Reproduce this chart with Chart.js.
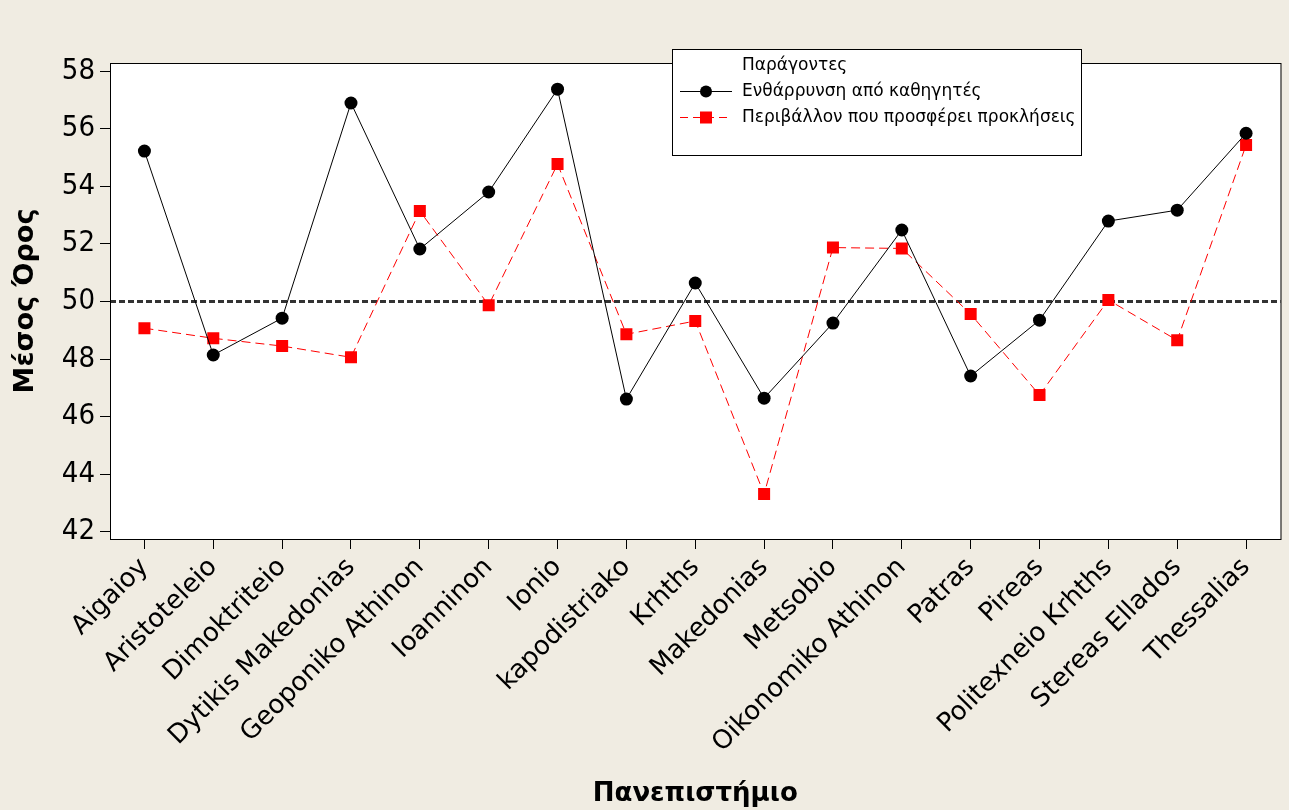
<!DOCTYPE html>
<html>
<head>
<meta charset="utf-8">
<script src="https://cdn.jsdelivr.net/npm/chart.js@4"></script>
<style>
  html, body { margin: 0; padding: 0; background: #F0ECE2; }
  #wrap { width: 1289px; height: 810px; }
</style>
</head>
<body>
<div id="wrap"><canvas id="c" width="1289" height="810"></canvas></div>
<script>
const categories = ["Aigaioy","Aristoteleio","Dimoktriteio","Dytikis Makedonias","Geoponiko Athinon","Ioanninon","Ionio","kapodistriako","Krhths","Makedonias","Metsobio","Oikonomiko Athinon","Patras","Pireas","Politexneio Krhths","Stereas Ellados","Thessalias"];
const encouragement = [55.22,48.14,49.42,56.89,51.82,53.80,57.37,46.61,50.64,46.64,49.25,52.48,47.41,49.35,52.79,53.17,55.84];
const challenge = [49.07,48.72,48.45,48.06,53.14,49.87,54.77,48.86,49.32,43.31,51.87,51.84,49.56,46.75,50.05,48.65,55.43];
const seriesNames = ["Ενθάρρυνση από καθηγητές","Περιβάλλον που προσφέρει προκλήσεις"];
const legendTitle = "Παράγοντες";
const yTicks = [42,44,46,48,50,52,54,56,58];
const referenceValue = 50;
const xTitle = "Πανεπιστήμιο";
const yTitle = "Μέσος Όρος";

const FONT = "'DejaVu Sans', sans-serif";

const framePlugin = {
  id: 'frame',
  beforeDraw(chart) {
    const {ctx, chartArea: a} = chart;
    ctx.save();
    ctx.fillStyle = '#FFFFFF';
    ctx.fillRect(a.left, a.top, a.right - a.left, a.bottom - a.top);
    ctx.restore();
  },
  beforeDatasetsDraw(chart) {
    const {ctx, chartArea: a, scales} = chart;
    const y = Math.round(scales.y.getPixelForValue(referenceValue)) + 0.5;
    ctx.save();
    ctx.strokeStyle = '#333333';
    ctx.lineWidth = 3;
    ctx.setLineDash([6, 3]);
    ctx.beginPath();
    ctx.moveTo(a.left, y);
    ctx.lineTo(a.right, y);
    ctx.stroke();
    ctx.restore();
  },
  afterDraw(chart) {
    const {ctx, chartArea: a} = chart;
    ctx.save();
    ctx.strokeStyle = '#000';
    ctx.lineWidth = 1;
    ctx.strokeRect(a.left + 0.5, a.top + 0.5, a.right - a.left, a.bottom - a.top);
    // legend box
    const bx = 672, by = 49, bw = 409, bh = 106;
    ctx.fillStyle = '#FFFFFF';
    ctx.fillRect(bx, by, bw, bh);
    ctx.strokeRect(bx + 0.5, by + 0.5, bw, bh);
    ctx.fillStyle = '#000';
    ctx.font = "17px " + FONT;
    ctx.textBaseline = 'middle';
    ctx.textAlign = 'left';
    ctx.fillText(legendTitle, 742, 66);
    // entry 1
    let ly = 91.5;
    ctx.strokeStyle = '#000';
    ctx.beginPath(); ctx.moveTo(680, ly); ctx.lineTo(732, ly); ctx.stroke();
    ctx.beginPath(); ctx.arc(706, ly, 6, 0, Math.PI * 2); ctx.fillStyle = '#000'; ctx.fill();
    ctx.fillText(seriesNames[0], 742, ly);
    // entry 2
    ly = 117.5;
    ctx.strokeStyle = '#FF0000';
    ctx.setLineDash([8, 5]);
    ctx.beginPath(); ctx.moveTo(680, ly); ctx.lineTo(732, ly); ctx.stroke();
    ctx.setLineDash([]);
    ctx.fillStyle = '#FF0000';
    ctx.fillRect(700, ly - 6, 12, 12);
    ctx.fillStyle = '#000';
    ctx.fillText(seriesNames[1], 742, ly);
    ctx.restore();
  }
};

new Chart(document.getElementById('c'), {
  type: 'line',
  data: {
    labels: categories,
    datasets: [
      {
        label: seriesNames[0],
        data: encouragement,
        borderColor: '#000000',
        backgroundColor: '#000000',
        borderWidth: 1,
        pointStyle: 'circle',
        pointRadius: 6.5,
        pointBorderWidth: 0,
        pointBackgroundColor: '#000000',
        tension: 0
      },
      {
        label: seriesNames[1],
        data: challenge,
        borderColor: '#FF0000',
        backgroundColor: '#FF0000',
        borderWidth: 1,
        borderDash: [9, 5],
        pointStyle: 'rect',
        pointRadius: 8.5,
        pointBorderWidth: 0,
        pointBackgroundColor: '#FF0000',
        tension: 0
      }
    ]
  },
  options: {
    responsive: false,
    animation: false,
    layout: { padding: { top: 63, right: 4, left: 0, bottom: 0 } },
    plugins: { legend: { display: false }, tooltip: { enabled: false } },
    scales: {
      x: {
        type: 'category',
        offset: true,
        afterFit(scale) { scale.height = 271; },
        grid: { drawOnChartArea: false, drawTicks: true, tickLength: 10, color: '#000', offset: false },
        border: { display: false },
        ticks: {
          color: '#000',
          font: { family: FONT, size: 26 },
          maxRotation: 45, minRotation: 45,
          autoSkip: false,
          padding: 3
        },
        title: {
          display: true,
          text: xTitle,
          color: '#000',
          font: { family: FONT, size: 26, weight: 'bold' },
          padding: { top: 0, bottom: 0 }
        }
      },
      y: {
        min: 41.75,
        max: 58.28,
        afterFit(scale) { scale.width = 110; },
        afterBuildTicks(scale) { scale.ticks = yTicks.map(v => ({ value: v })); },
        grid: { drawOnChartArea: false, drawTicks: true, tickLength: 10, color: '#000' },
        border: { display: false },
        ticks: {
          color: '#000',
          font: { family: "'DejaVu Sans Condensed', 'DejaVu Sans', sans-serif", size: 29 },
          padding: 5
        },
        title: {
          display: true,
          text: yTitle,
          color: '#000',
          font: { family: FONT, size: 27, weight: 'bold' },
          padding: { top: 10, bottom: 0 }
        }
      }
    }
  },
  plugins: [framePlugin]
});
</script>
</body>
</html>
